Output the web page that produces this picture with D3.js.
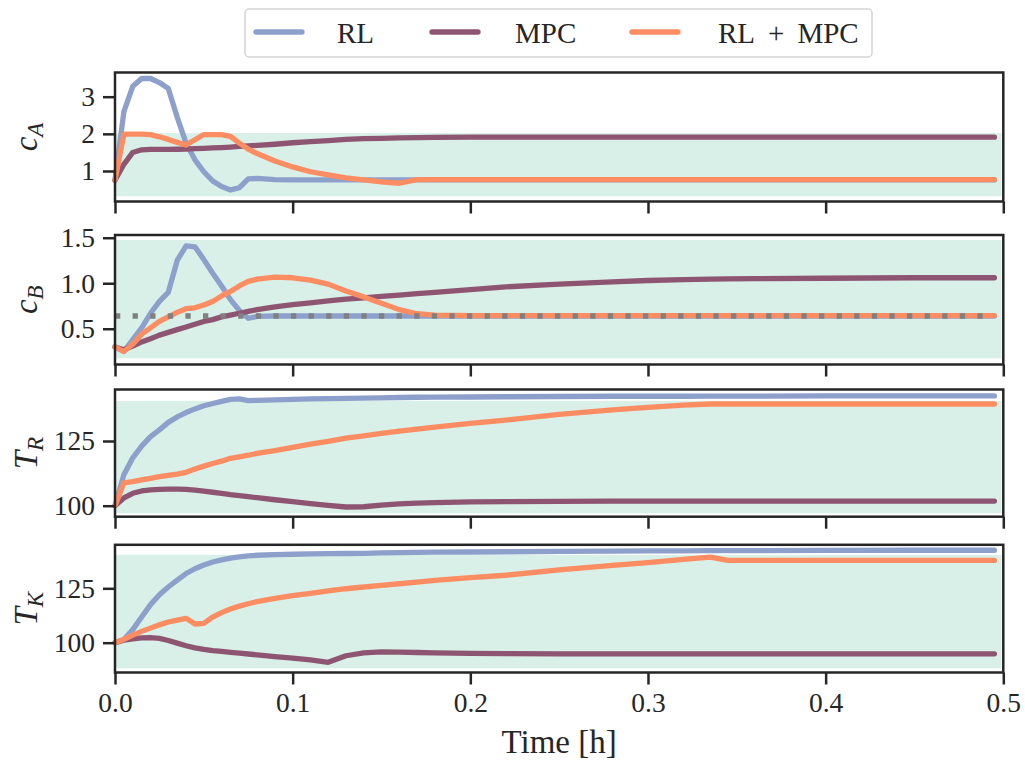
<!DOCTYPE html>
<html>
<head>
<meta charset="utf-8">
<script src="https://cdn.jsdelivr.net/npm/d3@7"></script>
<style>
  html, body { margin: 0; padding: 0; background: #fff; }
  svg { display: block; font-family: "Liberation Serif", "DejaVu Serif", serif; }
</style>
</head>
<body>
<svg id="chart" width="1025" height="765"></svg>
<script>
// Simulation time grid [h]
const timeH = [0, 0.005, 0.01, 0.015, 0.02, 0.025, 0.03, 0.035, 0.04, 0.045, 0.05, 0.055, 0.06, 0.065,
  0.07, 0.075, 0.08, 0.09, 0.1, 0.11, 0.12, 0.13, 0.14, 0.15, 0.16, 0.17, 0.18, 0.2, 0.22, 0.25,
  0.28, 0.3, 0.32, 0.335, 0.345, 0.36, 0.4, 0.45, 0.495];

const seriesNames = ["RL", "MPC", "RL + MPC"];

// c_A
const cA_RL = [0.75, 2.6, 3.28, 3.49, 3.49, 3.38, 3.22, 2.45, 1.75, 1.3, 0.98, 0.73, 0.58, 0.49,
  0.55, 0.79, 0.8, 0.77, 0.76, 0.76, 0.76, 0.76, 0.76, 0.76, 0.76, 0.76, 0.76, 0.76, 0.76, 0.76,
  0.76, 0.76, 0.76, 0.76, 0.76, 0.76, 0.76, 0.76, 0.76];
const cA_MPC = [0.75, 1.18, 1.5, 1.57, 1.58, 1.58, 1.58, 1.585, 1.59, 1.6, 1.61, 1.62, 1.63, 1.645,
  1.66, 1.675, 1.69, 1.72, 1.76, 1.79, 1.82, 1.85, 1.87, 1.88, 1.89, 1.9, 1.905, 1.91, 1.91, 1.91,
  1.91, 1.91, 1.91, 1.91, 1.91, 1.91, 1.91, 1.91, 1.91];
const cA_RLMPC = [0.75, 1.99, 1.99, 1.99, 1.98, 1.92, 1.85, 1.77, 1.7, 1.84, 1.98, 1.98, 1.98, 1.93,
  1.75, 1.59, 1.47, 1.27, 1.11, 0.98, 0.895, 0.815, 0.76, 0.71, 0.67, 0.77, 0.77, 0.77, 0.77, 0.77,
  0.77, 0.77, 0.77, 0.77, 0.77, 0.77, 0.77, 0.77, 0.77];

// c_B
const cB_RL = [0.3, 0.25, 0.38, 0.51, 0.67, 0.8, 0.9, 1.25, 1.41, 1.4, 1.26, 1.11, 0.97, 0.82,
  0.7, 0.615, 0.635, 0.64, 0.64, 0.64, 0.64, 0.64, 0.64, 0.64, 0.64, 0.64, 0.64, 0.64, 0.64, 0.64,
  0.64, 0.64, 0.64, 0.64, 0.64, 0.64, 0.64, 0.64, 0.64];
const cB_MPC = [0.3, 0.27, 0.31, 0.355, 0.39, 0.43, 0.46, 0.49, 0.52, 0.55, 0.58, 0.6, 0.63, 0.65,
  0.67, 0.69, 0.71, 0.74, 0.765, 0.785, 0.805, 0.825, 0.84, 0.855, 0.87, 0.885, 0.9, 0.93, 0.96, 0.99,
  1.015, 1.03, 1.04, 1.045, 1.048, 1.05, 1.055, 1.06, 1.06];
const cB_RLMPC = [0.3, 0.25, 0.33, 0.44, 0.51, 0.58, 0.63, 0.68, 0.72, 0.73, 0.76, 0.8, 0.86, 0.91,
  0.97, 1.02, 1.045, 1.068, 1.06, 1.035, 0.99, 0.915, 0.85, 0.78, 0.71, 0.665, 0.65, 0.645, 0.645, 0.645,
  0.645, 0.645, 0.645, 0.645, 0.645, 0.645, 0.645, 0.645, 0.645];
const cB_setpoint = 0.64;

// T_R
const TR_RL = [100, 112, 118.5, 123, 126.7, 129.3, 132.2, 134.3, 136, 137.4, 138.6, 139.5, 140.3, 141.1,
  141.3, 140.6, 140.7, 140.9, 141.1, 141.3, 141.4, 141.5, 141.6, 141.7, 141.8, 141.9, 141.95, 142, 142.1, 142.2,
  142.3, 142.3, 142.3, 142.35, 142.35, 142.35, 142.4, 142.4, 142.4];
const TR_MPC = [100, 103, 104.8, 105.7, 106.1, 106.3, 106.4, 106.4, 106.3, 106, 105.6, 105.2, 104.8, 104.3,
  103.9, 103.5, 103.1, 102.3, 101.6, 100.8, 100.1, 99.5, 99.6, 100.2, 100.7, 101, 101.2, 101.5, 101.6, 101.7,
  101.8, 101.8, 101.8, 101.8, 101.8, 101.8, 101.8, 101.8, 101.8];
const TR_RLMPC = [100, 108.8, 109.3, 110, 110.6, 111.2, 111.7, 112.2, 112.9, 114.2, 115.3, 116.3, 117.2, 118.3,
  118.9, 119.5, 120.2, 121.3, 122.5, 123.8, 124.9, 126.1, 127, 127.9, 128.8, 129.6, 130.4, 131.8, 133.1, 135.3,
  137, 138, 138.9, 139.3, 139.3, 139.3, 139.3, 139.3, 139.3];

// T_K
const TK_RL = [100, 101.5, 106, 111.8, 117.5, 122, 125.6, 128.8, 131.8, 134, 135.7, 137.1, 138.1, 138.9,
  139.5, 139.9, 140.2, 140.5, 140.65, 140.8, 140.9, 141, 141.1, 141.3, 141.4, 141.5, 141.6, 141.7, 141.8, 142,
  142.1, 142.2, 142.25, 142.3, 142.3, 142.35, 142.4, 142.5, 142.5];
const TK_MPC = [100, 101.2, 101.8, 102.2, 102.3, 102, 101, 99.8, 98.6, 97.6, 96.9, 96.4, 96, 95.6,
  95.2, 94.8, 94.4, 93.6, 92.9, 92.1, 91, 94, 95.3, 95.8, 95.7, 95.5, 95.3, 95.1, 95, 94.9,
  94.9, 94.9, 94.9, 94.9, 94.9, 94.9, 94.9, 94.9, 94.9];
const TK_RLMPC = [100, 101.5, 103.5, 105.2, 106.7, 108.2, 109.5, 110.4, 111.2, 108.6, 108.9, 111.8, 113.8, 115.5,
  116.8, 117.9, 118.9, 120.4, 121.6, 122.7, 123.8, 124.8, 125.6, 126.4, 127.1, 127.8, 128.6, 129.9, 131, 133.5,
  135.5, 136.8, 138.3, 139.3, 137.8, 137.8, 137.8, 137.8, 137.8];

// Admissible ranges (shaded bands)
const bandCA = [0.32, 2.02];
const bandCB = [0.175, 1.475];
const bandTR = [97.1, 140.5];
const bandTK = [88.2, 140.4];
const bandTime = [0, 0.499];

// Axis ticks
const xTicks = [0, 0.1, 0.2, 0.3, 0.4, 0.5];
const ticksCA = [1, 2, 3];
const ticksCB = [0.5, 1.0, 1.5];
const ticksTR = [100, 125];
const ticksTK = [100, 125];

const colors = ["#8da0cb", "#8e5572", "#fc8d62"];
const ink = "#262626";
const serif = "Liberation Serif, serif";

const svg = d3.select("#chart");
const left = 115, right = 1003.3;
const x = d3.scaleLinear().domain([0, 0.5]).range([left, right]);

const panels = [
  { top: 72.5, bottom: 201.5, domain: [0.179, 3.651], ticks: ticksCA, fmt: d3.format("d"),
    band: bandCA, series: [cA_RL, cA_MPC, cA_RLMPC], sym: "c", sub: "A" },
  { top: 235, bottom: 364.5, domain: [0.107, 1.53], ticks: ticksCB, fmt: d3.format(".1f"),
    band: bandCB, series: [cB_RL, cB_MPC, cB_RLMPC], sym: "c", sub: "B", setpoint: cB_setpoint },
  { top: 389.5, bottom: 516.7, domain: [95.75, 144.9], ticks: ticksTR, fmt: d3.format("d"),
    band: bandTR, series: [TR_RL, TR_MPC, TR_RLMPC], sym: "T", sub: "R" },
  { top: 544.8, bottom: 672.5, domain: [86.3, 145.0], ticks: ticksTK, fmt: d3.format("d"),
    band: bandTK, series: [TK_RL, TK_MPC, TK_RLMPC], sym: "T", sub: "K" }
];

panels.forEach((p, pi) => {
  const y = d3.scaleLinear().domain(p.domain).range([p.bottom, p.top]);
  const g = svg.append("g");

  // shaded admissible band
  g.append("rect")
    .attr("x", x(bandTime[0]))
    .attr("width", x(bandTime[1]) - x(bandTime[0]))
    .attr("y", y(p.band[1]))
    .attr("height", y(p.band[0]) - y(p.band[1]))
    .attr("fill", "#66c2a5")
    .attr("fill-opacity", 0.25);

  const line = d3.line().x((d, i) => x(timeH[i])).y(d => y(d));
  p.series.forEach((s, si) => {
    g.append("path")
      .datum(s)
      .attr("d", line)
      .attr("fill", "none")
      .attr("stroke", colors[si])
      .attr("stroke-width", 5.3)
      .attr("stroke-linecap", "round")
      .attr("stroke-linejoin", "round");
  });

  if (p.setpoint !== undefined) {
    g.append("line")
      .attr("x1", x(0)).attr("x2", x(0.495))
      .attr("y1", y(p.setpoint)).attr("y2", y(p.setpoint))
      .attr("stroke", "#808080")
      .attr("stroke-width", 5.5)
      .attr("stroke-dasharray", "5.3 12.3");
  }

  // y axis
  const yAxis = g.append("g")
    .attr("transform", `translate(${left},0)`)
    .call(d3.axisLeft(y).tickValues(p.ticks).tickFormat(p.fmt).tickSize(12).tickPadding(8));
  yAxis.select(".domain").remove();
  yAxis.selectAll(".tick line").attr("stroke", ink).attr("stroke-width", 2.5);
  yAxis.selectAll(".tick text").attr("fill", ink).attr("font-size", 27.5)
    .attr("font-family", serif);

  // x axis
  const xAxis = g.append("g")
    .attr("transform", `translate(0,${p.bottom})`)
    .call(d3.axisBottom(x).tickValues(xTicks).tickFormat(pi === panels.length - 1 ? d3.format(".1f") : "")
      .tickSize(12).tickPadding(8));
  xAxis.select(".domain").remove();
  xAxis.selectAll(".tick line").attr("stroke", ink).attr("stroke-width", 2.5);
  xAxis.selectAll(".tick text").attr("fill", ink).attr("font-size", 27.5)
    .attr("font-family", serif);

  // frame
  g.append("rect")
    .attr("x", left).attr("y", p.top)
    .attr("width", right - left).attr("height", p.bottom - p.top)
    .attr("fill", "none").attr("stroke", ink).attr("stroke-width", 2.5);

  // y label (math style, rotated)
  const cy = (p.top + p.bottom) / 2;
  const lab = g.append("text")
    .attr("transform", `translate(37,${cy}) rotate(-90)`)
    .attr("text-anchor", "middle")
    .attr("fill", ink)
    .attr("font-family", serif)
    .attr("font-size", 33)
    .attr("font-style", "italic");
  lab.append("tspan").text(p.sym);
  lab.append("tspan").attr("font-size", 23).attr("dy", 6).text(p.sub);
});

// x axis title
svg.append("text")
  .attr("x", (left + right) / 2)
  .attr("y", 753)
  .attr("text-anchor", "middle")
  .attr("fill", ink)
  .attr("font-family", serif)
  .attr("font-size", 33)
  .text("Time [h]");

// legend
const legend = svg.append("g");
legend.append("rect")
  .attr("x", 245).attr("y", 9).attr("width", 627).attr("height", 48)
  .attr("rx", 4)
  .attr("fill", "#fff").attr("stroke", "#d3d3d3").attr("stroke-width", 1.5);
const handleX = [256, 432, 632];
const labelX = [337, 515, 718];
seriesNames.forEach((name, i) => {
  legend.append("line")
    .attr("x1", handleX[i]).attr("x2", handleX[i] + 46)
    .attr("y1", 32).attr("y2", 32)
    .attr("stroke", colors[i]).attr("stroke-width", 5.3).attr("stroke-linecap", "round");
  const t = legend.append("text")
    .attr("x", labelX[i]).attr("y", 43)
    .attr("fill", ink).attr("font-family", serif).attr("font-size", 29);
  // widen the spacing around "+" like a math operator
  name.split(" ").forEach((part, k) => {
    t.append("tspan").attr("dx", k === 0 ? 0 : 13).text(part);
  });
});
</script>
</body>
</html>
